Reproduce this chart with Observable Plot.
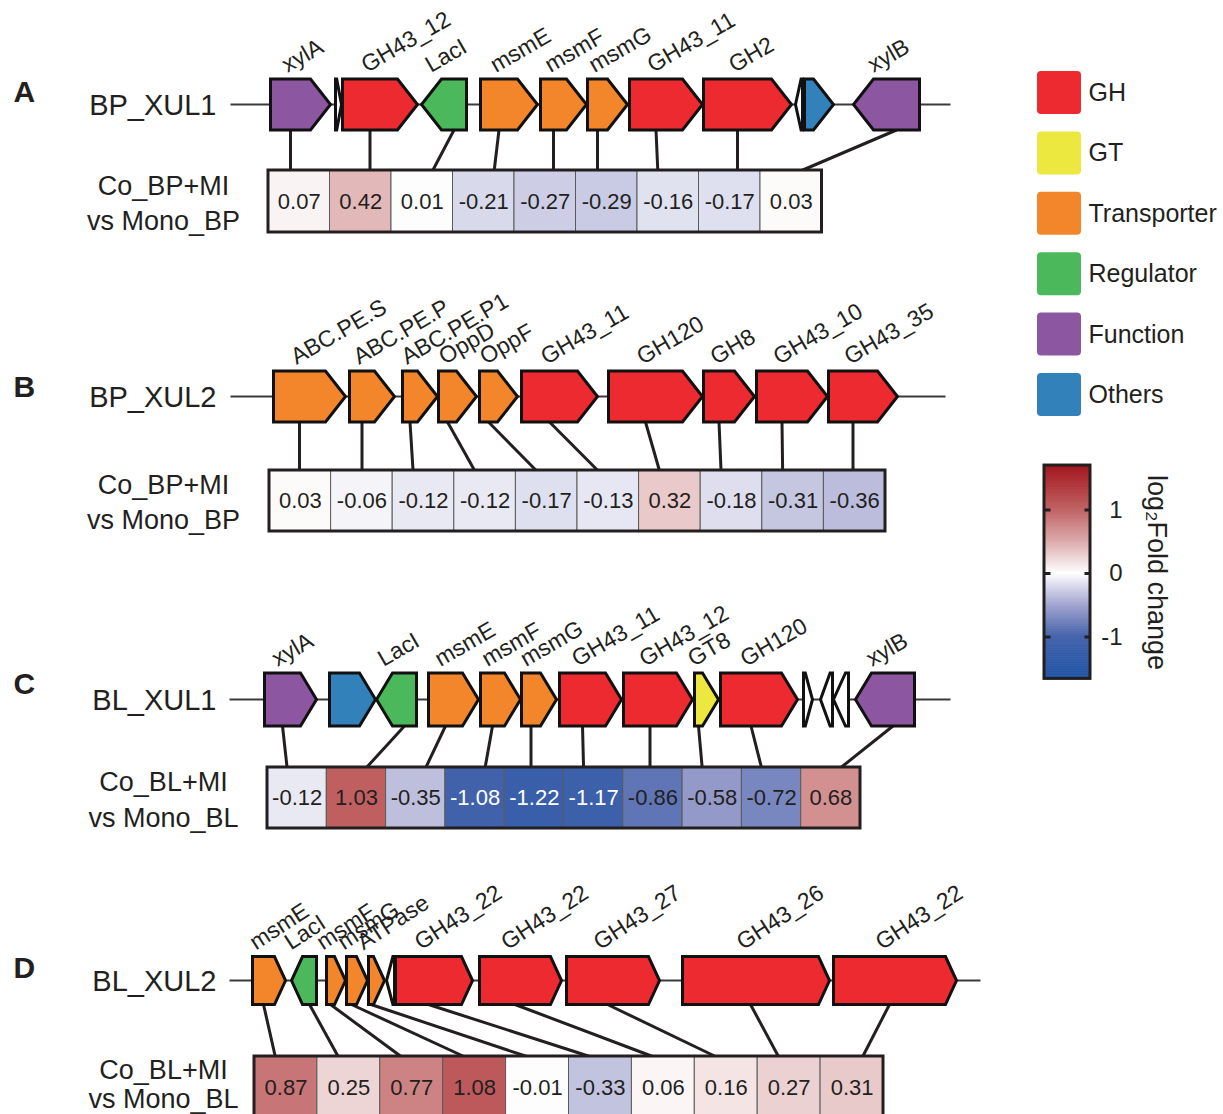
<!DOCTYPE html>
<html><head><meta charset="utf-8">
<script src="https://cdn.jsdelivr.net/npm/d3@7"></script>
<script src="https://cdn.jsdelivr.net/npm/@observablehq/plot@0.6"></script>
<style>html,body{margin:0;padding:0;background:#fff}#chart svg{display:block}</style>
</head><body><div id="chart"></div>
<script>
// ---------------- DATA ----------------
const legendTypes = ["GH", "GT", "Transporter", "Regulator", "Function", "Others"];
const typeColors  = ["#ec2a2f", "#ece83f", "#f3862b", "#4bb95b", "#8d56a0", "#3381bb"];

const panelLetters = ["A", "B", "C", "D"];
const clusterNames = ["BP_XUL1", "BP_XUL2", "BL_XUL1", "BL_XUL2"];
const compLine1 = ["Co_BP+MI", "Co_BP+MI", "Co_BL+MI", "Co_BL+MI"];
const compLine2 = ["vs Mono_BP", "vs Mono_BP", "vs Mono_BL", "vs Mono_BL"];

// Panel A : BP_XUL1
const locusA = [230, 950];
const genesA_name   = ["xylA", "", "GH43_12", "LacI", "msmE", "msmF", "msmG", "GH43_11", "GH2", "", "", "xylB"];
const genesA_start  = [270, 335, 342, 421, 480, 540, 587, 629, 703, 795, 804, 853];
const genesA_end    = [330, 341, 417, 466, 537, 586, 627, 702, 791, 802, 833, 919];
const genesA_strand = [1, 1, 1, -1, 1, 1, 1, 1, 1, -1, 1, -1];
const genesA_type   = ["Function", "none", "GH", "Regulator", "Transporter", "Transporter", "Transporter", "GH", "GH", "none", "Others", "Function"];
const log2fcA = [0.07, 0.42, 0.01, -0.21, -0.27, -0.29, -0.16, -0.17, 0.03];

// Panel B : BP_XUL2
const locusB = [230, 945];
const genesB_name   = ["ABC.PE.S", "ABC.PE.P", "ABC.PE.P1", "OppD", "OppF", "GH43_11", "GH120", "GH8", "GH43_10", "GH43_35"];
const genesB_start  = [273, 349, 402, 438, 479, 521, 608, 703, 756, 828];
const genesB_end    = [345, 394, 437, 476, 517, 597, 702, 754, 827, 897];
const genesB_strand = [1, 1, 1, 1, 1, 1, 1, 1, 1, 1];
const genesB_type   = ["Transporter", "Transporter", "Transporter", "Transporter", "Transporter", "GH", "GH", "GH", "GH", "GH"];
const log2fcB = [0.03, -0.06, -0.12, -0.12, -0.17, -0.13, 0.32, -0.18, -0.31, -0.36];

// Panel C : BL_XUL1
const locusC = [229, 950];
const genesC_name   = ["xylA", "", "LacI", "msmE", "msmF", "msmG", "GH43_11", "GH43_12", "GT8", "GH120", "", "", "", "xylB"];
const genesC_start  = [264, 329, 376, 428, 480, 521, 559, 623, 694, 720, 803, 820, 833, 855];
const genesC_end    = [316, 375, 416, 478, 520, 556, 621, 692, 718, 797, 812, 832, 848, 914];
const genesC_strand = [1, 1, -1, 1, 1, 1, 1, 1, 1, 1, 1, -1, -1, -1];
const genesC_type   = ["Function", "Others", "Regulator", "Transporter", "Transporter", "Transporter", "GH", "GH", "GT", "GH", "none", "none", "none", "Function"];
const log2fcC = [-0.12, 1.03, -0.35, -1.08, -1.22, -1.17, -0.86, -0.58, -0.72, 0.68];

// Panel D : BL_XUL2
const locusD = [229, 980];
const genesD_name   = ["msmE", "LacI", "msmF", "msmG", "ATPase", "", "GH43_22", "GH43_22", "GH43_27", "GH43_26", "GH43_22"];
const genesD_start  = [252, 291, 326, 346, 368, 386, 395, 479, 566, 682, 833];
const genesD_end    = [285, 316, 345, 367, 384, 394, 472, 561, 659, 829, 956];
const genesD_strand = [1, -1, 1, 1, 1, -1, 1, 1, 1, 1, 1];
const genesD_type   = ["Transporter", "Regulator", "Transporter", "Transporter", "Transporter", "none", "GH", "GH", "GH", "GH", "GH"];
const log2fcD = [0.87, 0.25, 0.77, 1.08, -0.01, -0.33, 0.06, 0.16, 0.27, 0.31];

const colorbarTicks = [1, 0, -1];
const colorStops  = [-1.7, -1, -0.5, 0, 0.5, 1, 1.7];
const colorRange  = ["#1f55a5", "#4563ac", "#a2a4cf", "#ffffff", "#dcaaab", "#c06263", "#a2141c"];

// ---------------- LAYOUT ----------------
const W = 1223, H = 1114;
const layout = [
  {trackY: 104, geneH: 51, head: 20, heatX: 268, cellW: 61.5, heatY: 170, heatH: 62, letterY: 101, l1: -15, l2: 20, rot: -30},
  {trackY: 396, geneH: 51, head: 20, heatX: 269, cellW: 61.6, heatY: 470, heatH: 61, letterY: 396, l1: -16, l2: 19, rot: -30},
  {trackY: 699, geneH: 53, head: 16, heatX: 267, cellW: 59.3, heatY: 767, heatH: 61, letterY: 693, l1: -16, l2: 20, rot: -30},
  {trackY: 980, geneH: 48, head: 11, heatX: 254, cellW: 62.9, heatY: 1056, heatH: 62, letterY: 977, l1: -17, l2: 12, rot: -33}
];
const panels = [
  {locus: locusA, name: genesA_name, start: genesA_start, end: genesA_end, strand: genesA_strand, type: genesA_type, fc: log2fcA},
  {locus: locusB, name: genesB_name, start: genesB_start, end: genesB_end, strand: genesB_strand, type: genesB_type, fc: log2fcB},
  {locus: locusC, name: genesC_name, start: genesC_start, end: genesC_end, strand: genesC_strand, type: genesC_type, fc: log2fcC},
  {locus: locusD, name: genesD_name, start: genesD_start, end: genesD_end, strand: genesD_strand, type: genesD_type, fc: log2fcD}
];
const colorOf = t => t === "none" ? "#ffffff" : typeColors[legendTypes.indexOf(t)];

const genePts = [], geneLabels = [], links = [], cells = [], frames = [], backbones = [], panelText = [];
panels.forEach((p, pi) => {
  const L = layout[pi];
  const top = L.trackY - L.geneH / 2, bot = L.trackY + L.geneH / 2, mid = L.trackY;
  backbones.push({x1: p.locus[0], x2: p.locus[1], y: mid});
  const c = L.heatY + L.heatH / 2;
  panelText.push({letter: panelLetters[pi], name: clusterNames[pi], l1: compLine1[pi], l2: compLine2[pi],
                  letterY: L.letterY, nameY: mid + 1, y1: c + L.l1, y2: c + L.l2});
  let k = 0;
  p.name.forEach((nm, i) => {
    const s = p.start[i], e = p.end[i], len = e - s;
    const hd = Math.min(L.head, len * 0.8);
    const id = pi + "-" + i, type = p.type[i];
    let pts, bodyMid;
    if (p.strand[i] > 0) {
      const b = e - hd;
      pts = [[s, mid], [s, top], [b, top], [e, mid], [b, bot], [s, bot], [s, mid]];
      bodyMid = (s + b) / 2;
    } else {
      const b = s + hd;
      pts = [[e, mid], [e, top], [b, top], [s, mid], [b, bot], [e, bot], [e, mid]];
      bodyMid = (b + e) / 2;
    }
    pts.forEach(([x, y]) => genePts.push({id, type, x, y}));
    if (nm) {
      geneLabels.push({label: nm, x: (s + e) / 2 - 13, y: top - 6, rot: L.rot});
      const c1 = L.heatX + k * L.cellW, c2 = c1 + L.cellW, m = L.cellW * 0.33;
      links.push({x1: bodyMid, y1: bot, x2: Math.max(c1 + m, Math.min(c2 - m, bodyMid)), y2: L.heatY});
      cells.push({x1: c1, x2: c2, y1: L.heatY, y2: L.heatY + L.heatH, v: p.fc[k]});
      k++;
    }
  });
  frames.push({x1: L.heatX, x2: L.heatX + k * L.cellW, y1: L.heatY, y2: L.heatY + L.heatH});
});

// colorbar geometry
const cb = {x1: 1044, x2: 1090, y0: 573, k: 63.5, vmin: -1.66, vmax: 1.70};
const cbY = v => cb.y0 - v * cb.k;
const ramp = d3.range(cb.vmin, cb.vmax, 0.01).map(v => ({v: v + 0.005, y1: cbY(v + 0.01) - 0.6, y2: cbY(v)}));
const legendItems = legendTypes.map((t, i) => ({t, y1: 71 + i * 60.4, y2: 71 + i * 60.4 + 43}));

const INK = "#231f20";
const marks = [];
marks.push(Plot.link(backbones, {x1: "x1", x2: "x2", y1: "y", y2: "y", stroke: "#3a3a3a", strokeWidth: 2}));
marks.push(Plot.link(links, {x1: "x1", y1: "y1", x2: "x2", y2: "y2", stroke: INK, strokeWidth: 3}));
["none", ...legendTypes].forEach(t => {
  marks.push(Plot.line(genePts.filter(d => d.type === t), {
    x: "x", y: "y", z: "id", fill: colorOf(t), stroke: "#111", strokeWidth: 3,
    strokeLinejoin: "miter", strokeMiterlimit: 10, curve: "linear"
  }));
});
// heatmap
marks.push(Plot.rect(cells, {x1: "x1", x2: "x2", y1: "y1", y2: "y2", fill: "v", stroke: "#5a5a5a", strokeWidth: 1}));
marks.push(Plot.rect(frames, {x1: "x1", x2: "x2", y1: "y1", y2: "y2", fill: "none", stroke: INK, strokeWidth: 3}));
marks.push(Plot.text(cells.filter(d => d.v >= -1), {x: d => (d.x1 + d.x2) / 2, y: d => (d.y1 + d.y2) / 2, text: d => d.v.toFixed(2), fill: INK, fontSize: 22}));
marks.push(Plot.text(cells.filter(d => d.v < -1), {x: d => (d.x1 + d.x2) / 2, y: d => (d.y1 + d.y2) / 2, text: d => d.v.toFixed(2), fill: "white", fontSize: 22}));
// gene labels
[-30, -33].forEach(r => marks.push(Plot.text(geneLabels.filter(d => d.rot === r), {
  x: "x", y: "y", text: "label", rotate: r, textAnchor: "start", lineAnchor: "bottom", fontSize: 23, fill: INK
})));
// panel texts
marks.push(Plot.text(panelText, {x: d => 13, y: "letterY", text: "letter", textAnchor: "start", lineAnchor: "bottom", fontSize: 30, fontWeight: "bold", fill: INK}));
marks.push(Plot.text(panelText, {x: d => 216, y: "nameY", text: "name", textAnchor: "end", fontSize: 29, fill: INK}));
marks.push(Plot.text(panelText, {x: d => 163, y: "y1", text: "l1", fontSize: 27, fill: INK}));
marks.push(Plot.text(panelText, {x: d => 163, y: "y2", text: "l2", fontSize: 27, fill: INK}));
// legend
legendItems.forEach((d, i) => {
  marks.push(Plot.rect([d], {x1: d => 1037, x2: d => 1081, y1: "y1", y2: "y2", fill: typeColors[i], rx: 4}));
});
marks.push(Plot.text(legendItems, {x: d => 1088, y: d => (d.y1 + d.y2) / 2, text: "t", textAnchor: "start", fontSize: 25, fill: INK}));
// colorbar
marks.push(Plot.rect(ramp, {x1: d => cb.x1, x2: d => cb.x2, y1: "y1", y2: "y2", fill: "v"}));
marks.push(Plot.rect([cb], {x1: "x1", x2: "x2", y1: d => cbY(d.vmax), y2: d => cbY(d.vmin), fill: "none", stroke: INK, strokeWidth: 3}));
marks.push(Plot.link(colorbarTicks, {x1: d => cb.x1, x2: d => cb.x1 + 6, y1: d => cbY(d), y2: d => cbY(d), stroke: INK, strokeWidth: 3}));
marks.push(Plot.link(colorbarTicks, {x1: d => cb.x2 - 6, x2: d => cb.x2, y1: d => cbY(d), y2: d => cbY(d), stroke: INK, strokeWidth: 3}));
marks.push(Plot.text(colorbarTicks, {x: d => 1122, y: d => cbY(d), text: d => String(d), textAnchor: "end", fontSize: 24, fill: INK}));
marks.push(Plot.text(["log₂Fold change"], {x: d => 1156, y: d => 572, text: d => d, rotate: 90, fontSize: 27, fill: INK}));

const chart = Plot.plot({
  width: W, height: H, margin: 0,
  x: {domain: [0, W], range: [0, W], axis: null},
  y: {domain: [0, H], range: [0, H], axis: null},
  color: {type: "linear", domain: colorStops, range: colorRange, interpolate: "rgb"},
  style: {fontFamily: "'Liberation Sans', Arial, Helvetica, sans-serif", background: "#ffffff", overflow: "hidden"},
  marks
});
document.getElementById("chart").appendChild(chart);
</script>
</body></html>
